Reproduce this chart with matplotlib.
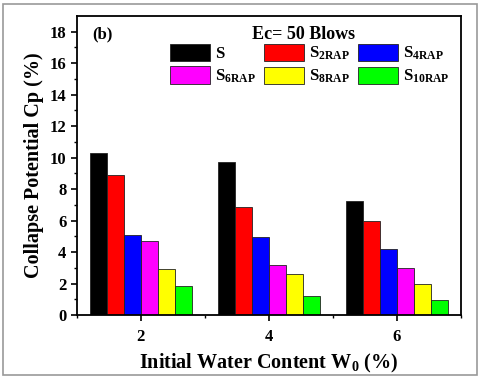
import matplotlib.pyplot as plt
from matplotlib.patches import Rectangle
import numpy as np

plt.rcParams['font.family'] = ['Liberation Serif', 'DejaVu Serif']
plt.rcParams['font.weight'] = 'bold'
plt.rcParams['mathtext.fontset'] = 'custom'
plt.rcParams['mathtext.bf'] = 'Liberation Serif:bold'
plt.rcParams['mathtext.rm'] = 'Liberation Serif:bold'
plt.rcParams['mathtext.default'] = 'bf'

water = [2, 4, 6]
labels = ["S", "S$_{2RAP}$", "S$_{4RAP}$", "S$_{6RAP}$", "S$_{8RAP}$", "S$_{10RAP}$"]
colors = ["#000000", "#ff0000", "#0000ff", "#ff00ff", "#ffff00", "#00ff00"]
cp = [
    [10.3, 9.75, 7.25],
    [8.9, 6.85, 5.95],
    [5.1, 4.95, 4.2],
    [4.7, 3.2, 3.0],
    [2.95, 2.6, 2.0],
    [1.85, 1.2, 0.95],
]

fig = plt.figure(figsize=(4.8, 3.8), dpi=100)
fig.patches.append(Rectangle((0.006, 0.012), 0.988, 0.978, transform=fig.transFigure,
                             fill=False, edgecolor="#999999", linewidth=1.2))
ax = fig.add_axes([0.160, 0.171, 0.800, 0.787])

w = 0.267
x = np.array(water, dtype=float)
handles = []
for i, (lab, col, vals) in enumerate(zip(labels, colors, cp)):
    b = ax.bar(x + (i - 2.5) * w, vals, width=w, color=col, edgecolor="#222222",
               linewidth=0.6, label=lab)
    handles.append(b)

ax.set_xlim(1, 7)
ax.set_ylim(0, 19)
ax.set_xticks(water)
ax.set_xticks([1, 3, 5, 7], minor=True)
ax.set_yticks(range(0, 19, 2))
ax.set_yticks(range(1, 19, 2), minor=True)
ax.tick_params(axis='both', which='major', direction='out', length=4, width=1.2, labelsize=12)
ax.tick_params(axis='x', which='major', pad=6)
ax.tick_params(axis='both', which='minor', direction='out', length=2.5, width=1.0)
ax.tick_params(top=False, right=False)
for s in ax.spines.values():
    s.set_linewidth(1.3)

ax.set_xlabel("Initial Water Content W$_0$ (%)", fontsize=14.5, fontweight='bold', labelpad=5)
ax.set_ylabel("Collapse Potential Cp (%)", fontsize=14.5, fontweight='bold', labelpad=4)

ax.text(0.04, 0.965, "(b)", transform=ax.transAxes, fontsize=12, fontweight='bold', va='top')
ax.text(0.59, 0.965, "Ec= 50 Blows", transform=ax.transAxes, fontsize=13, fontweight='bold',
        va='top', ha='center')

order = [0, 3, 1, 4, 2, 5]
ax.legend([handles[k] for k in order], [labels[k] for k in order], ncol=3,
          loc='upper left', bbox_to_anchor=(0.225, 0.93), frameon=False,
          fontsize=12, handlelength=2.4, handleheight=1.25, handletextpad=0.3,
          columnspacing=0.5, labelspacing=0.25, borderaxespad=0)

plt.savefig("out.png")
plt.close()
